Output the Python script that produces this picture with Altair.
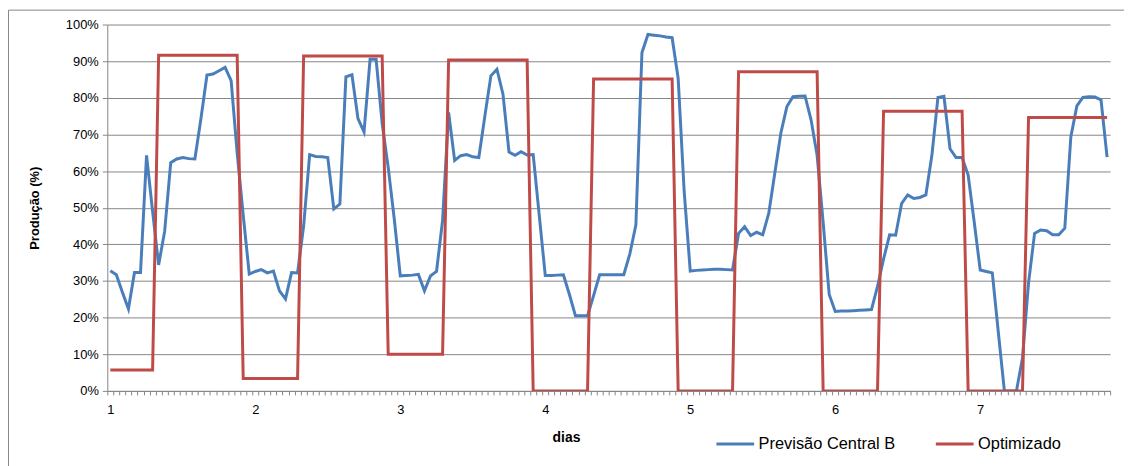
import altair as alt
import pandas as pd

# hourly index (0..165), day label = 1 + hour/24
hours = list(range(166))

previsao = [
    32.8, 31.7, 26.9, 22.4, 32.3, 32.3, 64.3, 49.0, 34.4, 43.6, 62.3, 63.3,
    63.7, 63.4, 63.3, 74.3, 86.2, 86.5, 87.4, 88.3, 84.7, 65.0, 48.0, 31.9,
    32.6, 33.1, 32.2, 32.7, 27.3, 25.1, 32.3, 32.2, 45.0, 64.5, 64.0, 63.9,
    63.7, 49.7, 51.0, 85.7, 86.3, 74.3, 70.7, 90.5, 90.5, 73.0, 61.0, 47.0,
    31.4, 31.5, 31.6, 31.8, 27.3, 31.4, 32.6, 46.5, 76.0, 62.9, 64.2, 64.5,
    63.9, 63.7, 75.0, 86.0, 87.8, 81.0, 65.2, 64.3, 65.3, 64.4, 64.5, 48.0,
    31.5, 31.5, 31.6, 31.7, 26.3, 20.5, 20.5, 20.5, 26.0, 31.7, 31.7, 31.7,
    31.7, 31.7, 37.4, 45.3, 92.3, 97.3, 97.1, 96.9, 96.6, 96.4, 85.3, 54.3,
    32.7, 32.9, 33.0, 33.1, 33.2, 33.2, 33.1, 33.0, 43.0, 44.8, 42.4, 43.3,
    42.6, 48.5, 59.5, 70.4, 77.6, 80.3, 80.4, 80.5, 74.0, 64.3, 46.0, 26.3,
    21.7, 21.8, 21.8, 21.9, 22.0, 22.1, 22.2, 28.5, 36.0, 42.6, 42.5, 51.2,
    53.5, 52.5, 52.8, 53.5, 64.3, 80.1, 80.4, 66.1, 63.7, 63.7, 58.9, 46.2,
    33.0, 32.6, 32.2, 16.0, 0.0, 0.0, 0.0, 9.0, 29.5, 43.0, 43.9, 43.7,
    42.6, 42.6, 44.4, 69.3, 77.8, 80.1, 80.3, 80.2, 79.4, 63.8,
]

optimizado = [
    5.7, 5.7, 5.7, 5.7, 5.7, 5.7, 5.7, 5.7,
    91.6, 91.6, 91.6, 91.6, 91.6, 91.6, 91.6, 91.6, 91.6, 91.6, 91.6, 91.6, 91.6, 91.6,
    3.4, 3.4, 3.4, 3.4, 3.4, 3.4, 3.4, 3.4, 3.4, 3.4,
    91.4, 91.4, 91.4, 91.4, 91.4, 91.4, 91.4, 91.4, 91.4, 91.4, 91.4, 91.4, 91.4, 91.4,
    10.0, 10.0, 10.0, 10.0, 10.0, 10.0, 10.0, 10.0, 10.0, 10.0,
    90.3, 90.3, 90.3, 90.3, 90.3, 90.3, 90.3, 90.3, 90.3, 90.3, 90.3, 90.3, 90.3, 90.3,
    0, 0, 0, 0, 0, 0, 0, 0, 0, 0,
    85.1, 85.1, 85.1, 85.1, 85.1, 85.1, 85.1, 85.1, 85.1, 85.1, 85.1, 85.1, 85.1, 85.1,
    0, 0, 0, 0, 0, 0, 0, 0, 0, 0,
    87.1, 87.1, 87.1, 87.1, 87.1, 87.1, 87.1, 87.1, 87.1, 87.1, 87.1, 87.1, 87.1, 87.1,
    0, 0, 0, 0, 0, 0, 0, 0, 0, 0,
    76.3, 76.3, 76.3, 76.3, 76.3, 76.3, 76.3, 76.3, 76.3, 76.3, 76.3, 76.3, 76.3, 76.3,
    0, 0, 0, 0, 0, 0, 0, 0, 0, 0,
    74.6, 74.6, 74.6, 74.6, 74.6, 74.6, 74.6, 74.6, 74.6, 74.6, 74.6, 74.6, 74.6, 74.6,
]

series_names = ["Previsão Central B", "Optimizado"]
series_colors = ["#4A7EBB", "#BE4B48"]
y_tick_values = [0, 0.1, 0.2, 0.3, 0.4, 0.5, 0.6, 0.7, 0.8, 0.9, 1.0]

df_b = pd.DataFrame({"hora": hours, "valor": [v / 100 for v in previsao], "serie": series_names[0]})
df_r = pd.DataFrame({"hora": hours, "valor": [v / 100 for v in optimizado], "serie": series_names[1]})

FONT = "Liberation Sans Narrow, Liberation Sans, Arial"
GRID = "#868686"

boundaries = [h - 0.5 for h in range(len(hours) + 1)]

x_enc = alt.X(
    "hora:Q",
    scale=alt.Scale(domain=[-0.5, len(hours) - 0.5], nice=False, zero=False),
    axis=alt.Axis(
        values=boundaries,
        labelExpr="(datum.value + 0.5) % 24 == 0 ? (datum.value + 0.5) / 24 + 1 : ''",
        labelOffset=3,
        labelOverlap=False,
        labelFlush=False,
        labelPadding=9,
        labelFontSize=13,
        labelColor="#000000",
        tickSize=4,
        tickColor=GRID,
        domainColor=GRID,
        grid=False,
        title="dias",
        titleFontWeight="bold",
        titleFontSize=14,
        titleX=462,
        titleY=40,
        titleColor="#000000",
    ),
)

y_enc = alt.Y(
    "valor:Q",
    scale=alt.Scale(domain=[0, 1], nice=False),
    axis=alt.Axis(
        values=y_tick_values,
        format=".0%",
        labelFontSize=13,
        labelPadding=4,
        labelColor="#000000",
        tickSize=5,
        tickColor=GRID,
        domainColor=GRID,
        gridColor=GRID,
        gridWidth=1,
        title="Produção (%)",
        titleFontWeight="bold",
        titleFontSize=13,
        titleX=-66,
        titleColor="#000000",
    ),
)

color_enc = alt.Color(
    "serie:N",
    scale=alt.Scale(domain=series_names, range=series_colors),
    legend=alt.Legend(
        title=None,
        orient="none",
        legendX=612,
        legendY=402,
        direction="horizontal",
        symbolType="stroke",
        symbolSize=1444,
        symbolStrokeWidth=3,
        labelFontSize=16.5,
        labelOffset=3,
        labelColor="#000000",
        columnPadding=34,
    ),
)

blue = alt.Chart(df_b).mark_line(strokeWidth=3, clip=True).encode(x=x_enc, y=y_enc, color=color_enc)
red = alt.Chart(df_r).mark_line(strokeWidth=3, clip=True).encode(x=x_enc, y=y_enc, color=color_enc)

frame_top = alt.Chart(pd.DataFrame({"k": [0]})).mark_rule(color=GRID, strokeWidth=1).encode(
    x=alt.value(-99.5), x2=alt.value(1024), y=alt.value(-14.5)
)
frame_left = alt.Chart(pd.DataFrame({"k": [0]})).mark_rule(color=GRID, strokeWidth=1).encode(
    x=alt.value(-99.5), y=alt.value(-14.5), y2=alt.value(460)
)

chart = (
    alt.layer(frame_top, frame_left, blue, red)
    .properties(
        width=1010,
        height=369,
        autosize=alt.AutoSizeParams(type="none"),
        padding={"left": 100, "top": 15, "right": 14, "bottom": 74},
    )
    .configure(font=FONT)
    .configure_view(stroke=None)
)

chart.save("out.html", embed_options={"renderer": "svg", "actions": False})
